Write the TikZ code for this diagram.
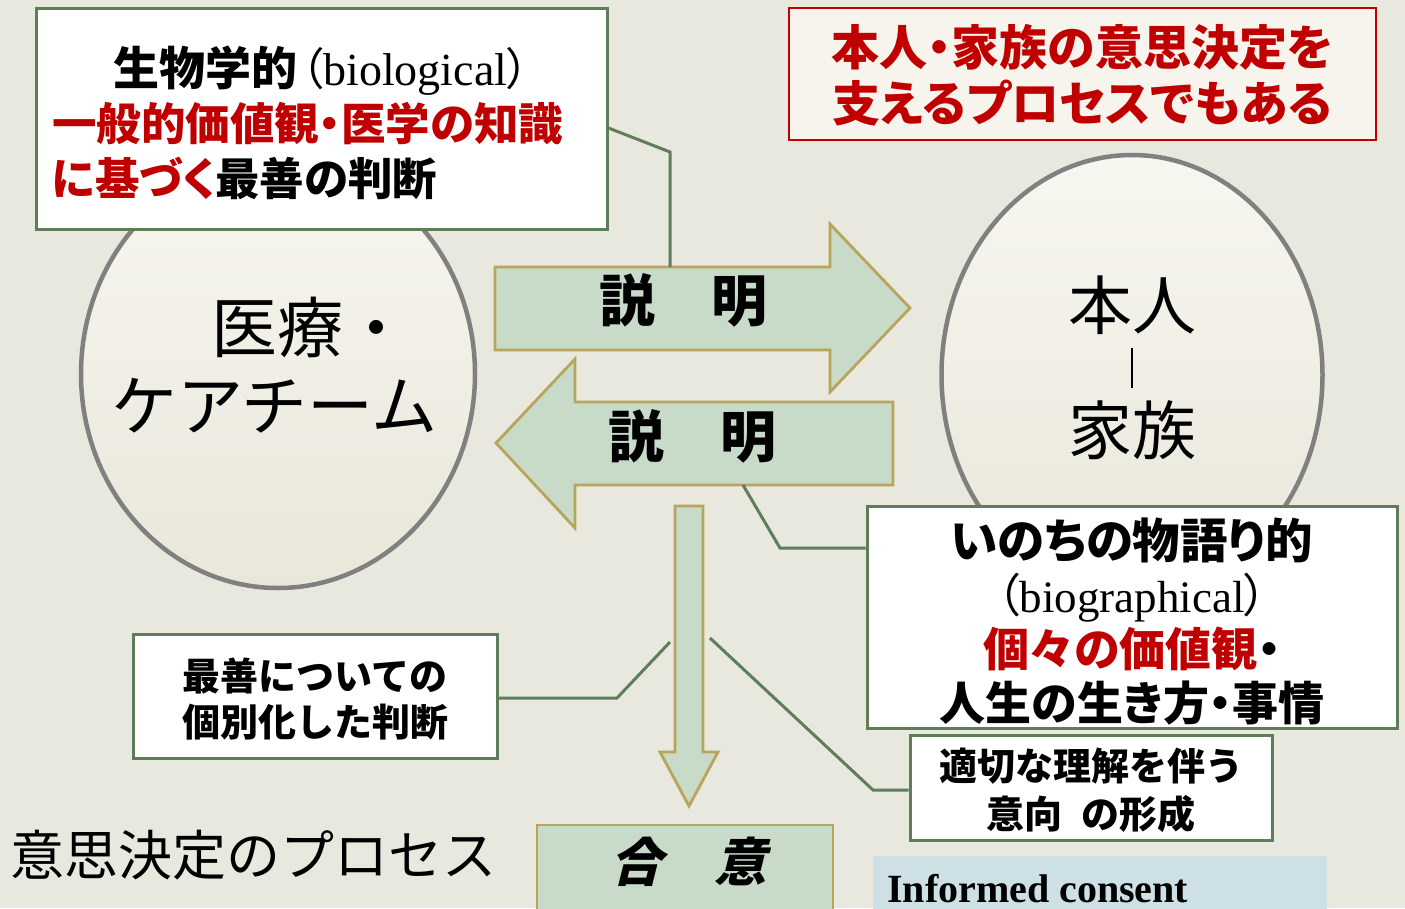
\documentclass[tikz,border=0pt]{standalone}
\usepackage{fontspec}
\setmainfont{Liberation Serif}
\newfontfamily\jp{Noto Sans CJK JP}
\newfontfamily\jpp{Noto Sans CJK JP}[RawFeature=+palt]
\newfontfamily\jpsl{Noto Sans CJK JP}[FakeSlant=0.25]
\usetikzlibrary{shapes.geometric}
\definecolor{bg}{RGB}{233,232,222}
\definecolor{boxgreen}{RGB}{94,125,88}
\definecolor{olive}{RGB}{184,165,92}
\definecolor{arrowfill}{RGB}{200,218,200}
\definecolor{jpred}{RGB}{192,0,0}
\definecolor{ovalgray}{RGB}{128,128,128}
\definecolor{ovaltop}{RGB}{247,246,240}
\definecolor{ovalbot}{RGB}{233,231,218}
\definecolor{trfill}{RGB}{246,244,237}
\definecolor{icblue}{RGB}{205,224,230}
\tikzset{
  oval/.style={ellipse, draw=ovalgray, line width=4.5pt, top color=ovaltop, bottom color=ovalbot, inner sep=0pt},
  gbox/.style={draw=boxgreen, line width=3pt, fill=white, inner sep=0pt},
  conn/.style={draw=boxgreen, line width=3pt, line join=miter},
  bigarrow/.style={draw=olive, line width=2.8pt, fill=arrowfill, line join=miter},
  txt/.style={inner sep=0pt}
}
\begin{document}
\begin{tikzpicture}[x=1pt,y=-1pt]
\useasboundingbox (0,0) rectangle (1405,908);
\fill[bg] (0,0) rectangle (1405,908);
\clip (0,0) rectangle (1405,908);

% ovals
\node[oval, minimum width=394pt, minimum height=428pt] (team) at (278,374) {};
\node[oval, minimum width=381pt, minimum height=440pt] (family) at (1132,375) {};

\node[txt, anchor=west, font=\jp\fontsize{66}{66}\selectfont, text height=58.1pt, text depth=7.9pt] (teamA) at (211,327) {医療・};
\node[txt, anchor=west, font=\jp\fontsize{66}{66}\selectfont, text height=58.1pt, text depth=7.9pt] (teamB) at (111,405) {ケアチーム};

\node[txt, font=\jp\fontsize{64}{64}\selectfont, text height=56.3pt, text depth=7.7pt] (honin) at (1132,305) {本人};
\node[txt, font=\jp\fontsize{64}{64}\selectfont, text height=56.3pt, text depth=7.7pt] (kazoku) at (1132,430) {家族};
\draw[line width=1.6pt, shorten <=11pt, shorten >=10pt] (honin.south) -- (kazoku.north);

% top-left box
\node[gbox, minimum width=571pt, minimum height=221pt, text width=539pt, inner xsep=16pt, align=left,
      font=\jpp\bfseries\fontsize{44.5}{55}\selectfont, text height=49.5pt, text depth=115.5pt] (box1) at (321.5,118.5)
  {\hspace*{61pt}{\fontsize{46}{55}\selectfont 生物学的}\hspace{4pt}{\mdseries（}{\rmfamily\mdseries\fontsize{46}{55}\selectfont biological}{\mdseries）}\\
   {\color{jpred}一般的価値観・医学の知識}\\
   {\color{jpred}に基づく}最善の判断};

% top-right box
\node[draw=jpred, line width=1.5pt, fill=trfill, inner sep=0pt, minimum width=587pt, minimum height=132pt, align=center,
      text=jpred, font=\jpp\bfseries\fontsize{48}{56}\selectfont, text height=100.2pt, text depth=5.8pt] (support) at (1082.5,74)
  {本人・家族の意思決定を\\支えるプロセスでもある};

% explanation arrows
\draw[bigarrow] (495,267) -- (830,267) -- (830,224) -- (910,308) -- (830,392) -- (830,350) -- (495,350) -- cycle;
\coordinate (a1top) at (670,267);
\node[txt, font=\jp\bfseries\fontsize{56}{56}\selectfont, text height=49.3pt, text depth=6.7pt] (expl1) at (683,300) {説　明};

\draw[bigarrow] (893,402) -- (575,402) -- (575,359) -- (496,443) -- (575,528) -- (575,485) -- (893,485) -- cycle;
\coordinate (a2bot) at (743,485);
\node[txt, font=\jp\bfseries\fontsize{56}{56}\selectfont, text height=49.3pt, text depth=6.7pt] (expl2) at (692,436) {説　明};

% down arrow
\draw[bigarrow] (675,506) -- (703,506) -- (703,752) -- (718,752) -- (689,806) -- (660,752) -- (675,752) -- cycle;

% biographical box
\node[gbox, minimum width=530pt, minimum height=222pt, align=center,
      font=\jpp\bfseries\fontsize{46}{54}\selectfont, text height=212.5pt, text depth=5.5pt] (bio) at (1132,617)
  {{\fontsize{47.5}{54}\selectfont いのちの物語り的}\\
   {\mdseries（}{\rmfamily\mdseries\fontsize{45}{54}\selectfont biographical}{\mdseries）}\\
   {\color{jpred}個々の価値観}・\\
   人生の生き方・事情};

% individual judgement box
\node[gbox, minimum width=364pt, minimum height=124pt, align=center,
      font=\jp\bfseries\fontsize{38}{46}\selectfont, text height=85.4pt, text depth=4.6pt] (box3) at (315,696)
  {最善についての\\個別化した判断};

% intention box
\node[gbox, minimum width=362pt, minimum height=105pt, align=center,
      font=\jp\bfseries\fontsize{38}{48}\selectfont, text height=86.4pt, text depth=4.6pt] (box4) at (1091,787.5)
  {適切な理解を伴う\\意向\hspace{0.5em}の形成};

% connectors
\coordinate (c3end) at (670,642);
\coordinate (c4start) at (710,638);
\draw[conn] (box1.east |- 0,128) -- (670,152) -- (a1top);
\draw[conn] (a2bot) -- (780,548) -- (bio.west |- 780,548);
\draw[conn] (box3.east |- 0,698) -- (617,698) -- (c3end);
\draw[conn] (c4start) -- (873,790) -- (box4.west |- 873,790);

% bottom
\node[txt, font=\jp\fontsize{54}{54}\selectfont, text height=47.5pt, text depth=6.5pt] (process) at (253,855) {意思決定のプロセス};

\node[draw=olive, line width=2.8pt, fill=arrowfill, inner sep=0pt, minimum width=296pt, minimum height=110pt] (gouibox) at (685,880) {};
\node[txt, font=\jpsl\bfseries\fontsize{52}{52}\selectfont, text height=45.8pt, text depth=6.2pt] (goui) at (688,862) {合　意};

\node[fill=icblue, inner sep=0pt, minimum width=454pt, minimum height=80pt] (icbox) at (1100,896) {};
\node[txt, anchor=base west, font=\rmfamily\bfseries\fontsize{40}{40}\selectfont] (ic) at (887,902) {Informed consent};
\end{tikzpicture}
\end{document}
